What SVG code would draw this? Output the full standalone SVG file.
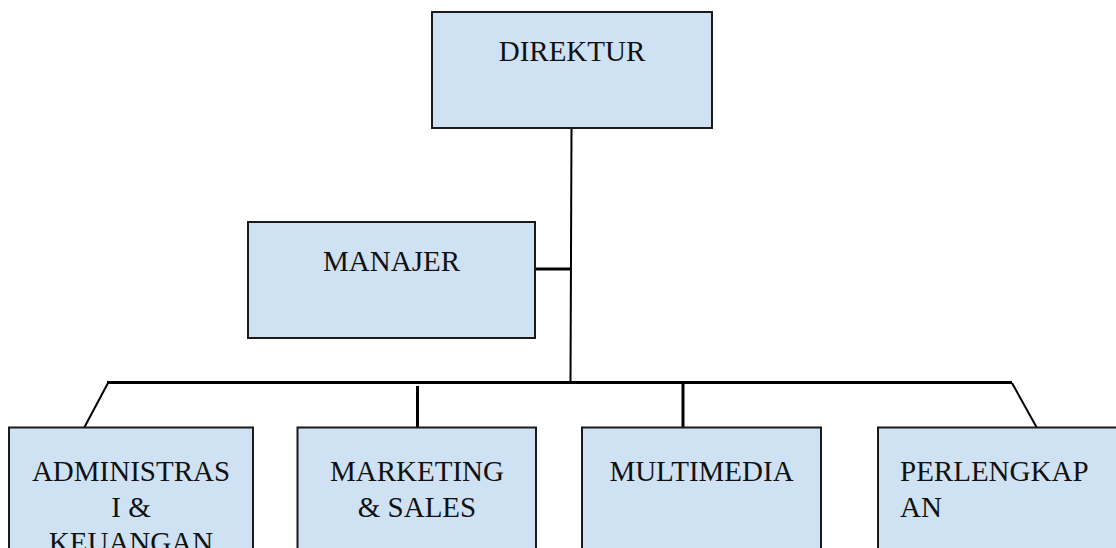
<svg xmlns="http://www.w3.org/2000/svg" width="1116" height="548" viewBox="0 0 1116 548">
<style>
.box{fill:#cfe2f3;stroke:#1a1a1a;stroke-width:2}
.t{font-family:"Liberation Serif","Times New Roman",serif;font-size:29px;fill:#111}
.c{text-anchor:middle}
.ln{stroke:#000;fill:none}
</style>
<rect width="1116" height="548" fill="#fff"/>
<g id="connectors">
<line class="ln" x1="571.5" y1="128" x2="570.5" y2="382" stroke-width="2"/>
<line class="ln" x1="535" y1="269" x2="571" y2="269" stroke-width="3"/>
<line class="ln" x1="107" y1="382.5" x2="1012" y2="382.5" stroke-width="3"/>
<line class="ln" x1="108" y1="383" x2="84" y2="428" stroke-width="2"/>
<line class="ln" x1="1012" y1="383" x2="1037" y2="428" stroke-width="2"/>
<line class="ln" x1="417.5" y1="386" x2="417.5" y2="428" stroke-width="3"/>
<line class="ln" x1="683" y1="382" x2="683" y2="428" stroke-width="3"/>
</g>
<g id="direktur">
<rect class="box" x="432" y="12" width="280" height="116"/>
<text class="t c" x="572" y="61">DIREKTUR</text>
</g>
<g id="manajer">
<rect class="box" x="248" y="222" width="287" height="116"/>
<text class="t c" x="391.5" y="271">MANAJER</text>
</g>
<g id="administrasi">
<rect class="box" x="9" y="427.5" width="244" height="140"/>
<text class="t c" x="131" y="481">ADMINISTRAS</text>
<text class="t c" x="131" y="516.5">I &amp;</text>
<text class="t c" x="131" y="552">KEUANGAN</text>
</g>
<g id="marketing">
<rect class="box" x="297.5" y="427.5" width="238.5" height="140"/>
<text class="t c" x="417" y="481">MARKETING</text>
<text class="t c" x="417" y="516.5">&amp; SALES</text>
</g>
<g id="multimedia">
<rect class="box" x="582" y="427.5" width="239" height="140"/>
<text class="t c" x="701.5" y="481">MULTIMEDIA</text>
</g>
<g id="perlengkapan">
<rect class="box" x="878" y="427.5" width="260" height="140"/>
<text class="t" x="900" y="481">PERLENGKAP</text>
<text class="t" x="900" y="516.5">AN</text>
</g>
</svg>
